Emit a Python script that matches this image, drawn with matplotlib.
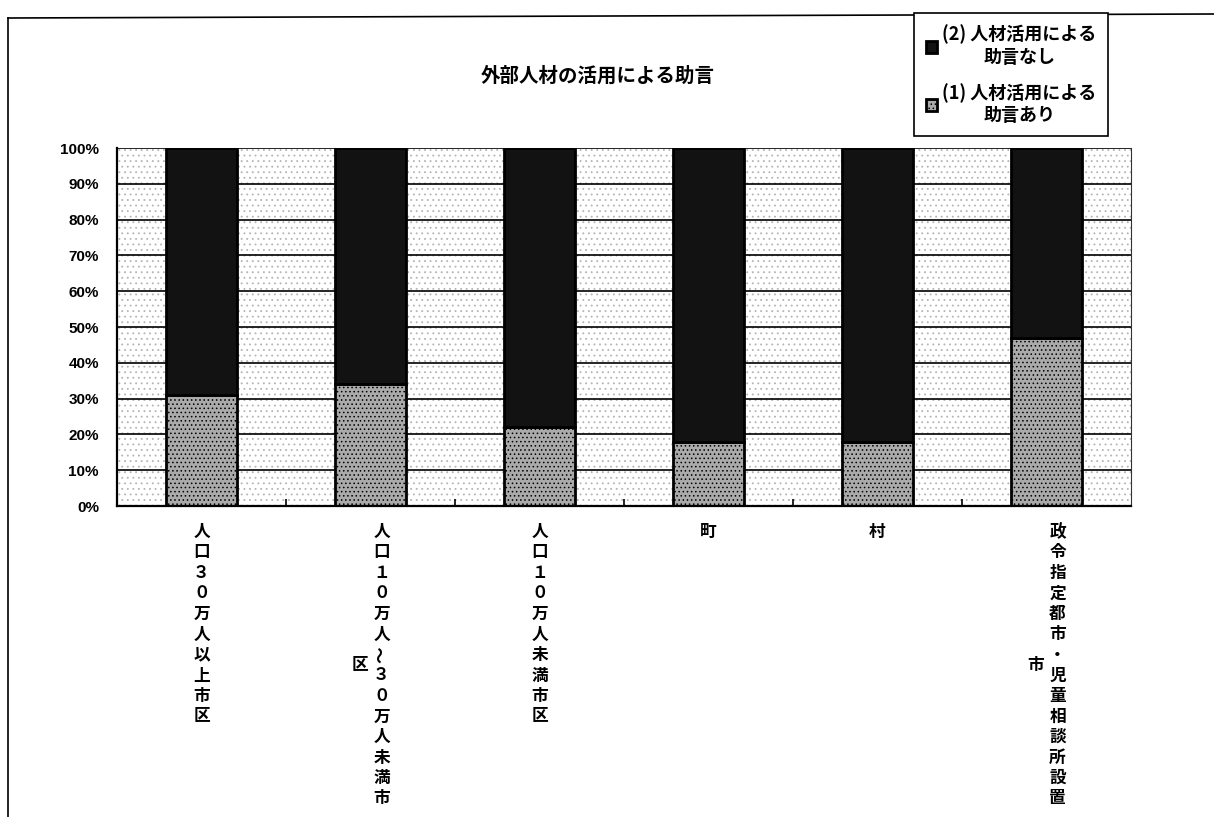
import matplotlib
matplotlib.use("Agg")
import matplotlib.pyplot as plt
from matplotlib.patches import Rectangle
from matplotlib.lines import Line2D
import numpy as np

plt.rcParams['font.family'] = ['Noto Sans CJK JP', 'DejaVu Sans']
plt.rcParams['hatch.linewidth'] = 0.6

# 外部人材の活用による助言（自治体区分別、構成比 %）
categories = ["人口３０万人以上市区", "人口１０万人～３０万人未満市区", "人口１０万人未満市区",
              "町", "村", "政令指定都市・児童相談所設置市"]
advice_yes = [31, 34, 22, 18, 18, 47]   # (1) 人材活用による助言あり
advice_no = [69, 66, 78, 82, 82, 53]    # (2) 人材活用による助言なし
label_yes = "(1) 人材活用による\n助言あり"
label_no = "(2) 人材活用による\n助言なし"
y_ticks = [0, 10, 20, 30, 40, 50, 60, 70, 80, 90, 100]

W, H = 1214, 817
fig = plt.figure(figsize=(W / 100, H / 100), dpi=100)
ax = fig.add_axes([117 / W, 1 - 506 / H, (1131 - 117) / W, (506 - 148) / H])

# stippled plot background
ax.add_patch(Rectangle((0, 0), 1, 1, transform=ax.transAxes, facecolor='white',
                       edgecolor='#b4b4b4', hatch='...', lw=0, zorder=0))

x = np.arange(len(categories))
bars_yes = ax.bar(x, advice_yes, width=0.42, color='#aaaaaa', edgecolor='black',
                  lw=2, hatch='....', zorder=2)
bars_no = ax.bar(x, advice_no, width=0.42, bottom=advice_yes, color='#121212',
                 edgecolor='black', lw=2, zorder=2)

ax.set_xlim(-0.5, len(categories) - 0.5)
ax.set_ylim(0, 100)
ax.set_yticks(y_ticks)
ax.set_yticklabels([f"{v}%" for v in y_ticks], fontfamily='Liberation Sans',
                   fontweight='bold', fontsize=11)
ax.tick_params(axis='y', length=0, pad=13)
ax.set_xticks(x)
ax.set_xticklabels([])
ax.tick_params(axis='x', which='major', length=0)
ax.set_xticks(x[:-1] + 0.5, minor=True)
ax.tick_params(axis='x', which='minor', direction='in', length=5, width=1.2)
ax.grid(axis='y', color='black', lw=1.2, zorder=1)

for side in ['left', 'bottom']:
    ax.spines[side].set_linewidth(1.6)
ax.spines['top'].set_visible(False)
ax.spines['right'].set_linestyle((0, (1, 1)))
ax.spines['right'].set_color('#333333')

# vertical category labels, 14 characters per column, columns run right to left
pitch = 20.5
gap = 22
for i, name in enumerate(categories):
    cols = [name[k:k + 14] for k in range(0, len(name), 14)]
    n_main = len(cols[0])
    for c, col in enumerate(cols):
        dx = (len(cols) - 1) / 2 * gap - c * gap
        start = (n_main - len(col)) / 2
        for r, ch in enumerate(col):
            ax.annotate(ch, xy=(i, 0), xycoords=ax.get_xaxis_transform(),
                        xytext=(dx, -(26 + (start + r) * pitch)), textcoords='offset pixels',
                        ha='center', va='center', fontsize=12, fontweight='bold',
                        rotation=90 if ch == '～' else 0)

fig.text(598 / W, 1 - 76 / H, "外部人材の活用による助言", ha='center', va='center',
         fontsize=14, fontweight='bold')

leg = fig.legend([bars_no, bars_yes], [label_no, label_yes], loc='upper left',
                 bbox_to_anchor=(914 / W, 1 - 13 / H), borderaxespad=0, frameon=True,
                 fancybox=False, edgecolor='black', framealpha=1,
                 prop={'size': 13, 'weight': 'bold'}, handlelength=0.6,
                 handleheight=0.6, handletextpad=0.3, labelspacing=0.9, borderpad=0.65)
leg.get_frame().set_linewidth(1.2)
for t in leg.get_texts():
    t.set_multialignment('center')

# outer chart frame
fig.add_artist(Line2D([8 / W, 8 / W], [0, 1 - 18 / H], transform=fig.transFigure,
                      color='black', lw=1.2))
fig.add_artist(Line2D([8 / W, 1], [1 - 18 / H, 1 - 14 / H], transform=fig.transFigure,
                      color='black', lw=1.2))

fig.savefig("out.png", dpi=100)
